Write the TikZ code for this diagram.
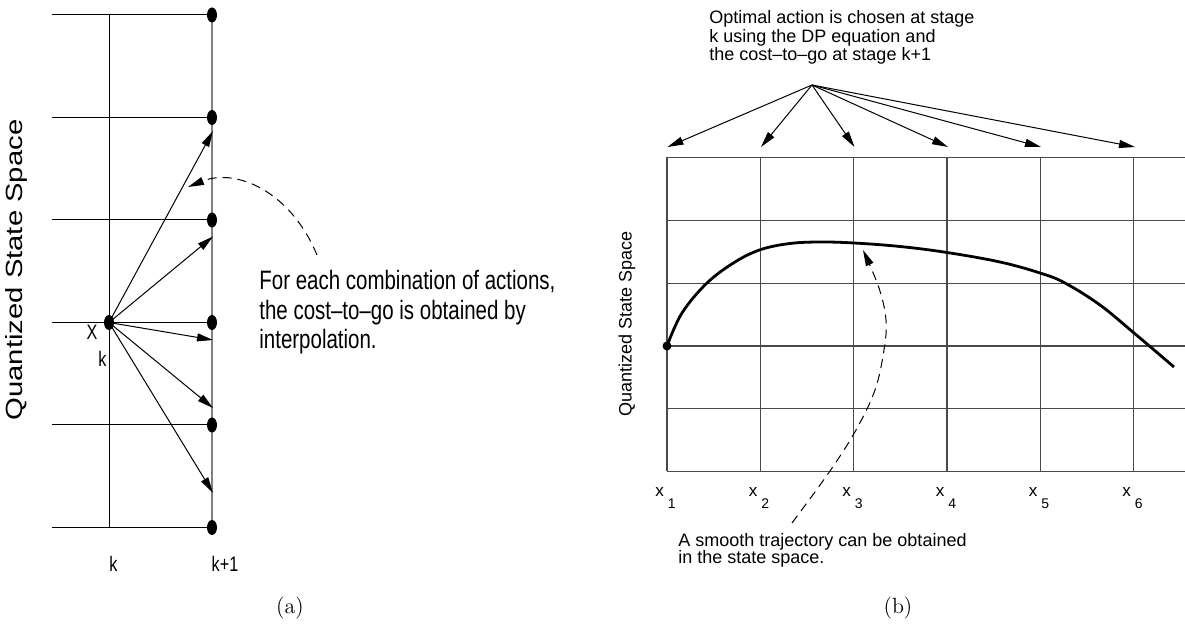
\documentclass[tikz,border=0pt]{standalone}
\usepackage{fontspec}
\usepackage{tikz}
\usetikzlibrary{arrows.meta,positioning,shapes.geometric}
\newfontfamily\helv{Liberation Sans}
\newfontfamily\helvnarrow[FakeStretch=0.77]{Liberation Sans}
\newfontfamily\helvwide[FakeStretch=1.25]{Liberation Sans}
\definecolor{gridgray}{HTML}{4A4A4A}
\newcommand{\xsub}[1]{x\hspace{2pt}\raisebox{-6pt}{\fontsize{7}{8}\selectfont #1}}

\begin{document}
\begin{tikzpicture}[
    x=0.5pt,y=-0.5pt,
    dot/.style={ellipse,fill=black,inner sep=0pt,minimum width=5pt,minimum height=7.5pt},
    arr/.style={-{Triangle[length=8pt,width=4pt]},line width=0.5pt},
    dasharr/.style={-{Triangle[length=8pt,width=4pt]},line width=0.5pt,dash pattern=on 4.5pt off 3pt},
    gridline/.style={line width=0.55pt,draw=gridgray},
    note/.style={font=\helv\fontsize{9}{9.2}\selectfont,align=left,inner sep=0pt},
    bignote/.style={font=\helvnarrow\fontsize{13.3}{14.8}\selectfont,align=left,inner sep=0pt},
    tick/.style={font=\helvnarrow\fontsize{10.5}{12}\selectfont,inner sep=0pt,anchor=base},
    xtick/.style={font=\helv\fontsize{8.5}{9}\selectfont,inner sep=0pt,anchor=base}
  ]
    \useasboundingbox (0,0) rectangle (1185,624);

    % (a) stage k to stage k+1
    \draw[gridline,draw=black,line width=0.5pt] (52,15) -- (212,15) (52,117.5) -- (212,117.5) (52,220) -- (212,220)
      (52,322.5) -- (212,322.5) (52,425) -- (212,425) (52,527.5) -- (212,527.5);
    \draw[gridline,draw=black,line width=0.5pt] (109,15) -- (109,527.5);
    \draw[gray,line width=1pt] (212,15) -- (212,527.5);
    \node[dot] (q1) at (212,15) {};
    \node[dot] (q2) at (212,117.5) {};
    \node[dot] (q3) at (212,220) {};
    \node[dot] (q4) at (212,322.5) {};
    \node[dot] (q5) at (212,425) {};
    \node[dot] (q6) at (212,527.5) {};
    \node[dot] (xk) at (109,322.5) {};
    \coordinate (t1) at (213,131);
    \coordinate (t2) at (213,236.5);
    \coordinate (t3) at (213,340);
    \coordinate (t4) at (213,408);
    \coordinate (t5) at (213,493);
    \draw[arr] (xk.center) -- (t1);
    \draw[arr] (xk.center) -- (t2);
    \draw[arr] (xk.center) -- (t3);
    \draw[arr] (xk.center) -- (t4);
    \draw[arr] (xk.center) -- (t5);
    \node[tick] (xklab) at (92,340) {X};
    \node[tick] (xksub) at (102.5,367) {k};
    \node[tick] (klab) at (113.5,572) {k};
    \node[tick] (k1lab) at (225,572) {k+1};
    \node[font=\helvwide\fontsize{11.7}{13}\selectfont,rotate=90,inner sep=0pt] (qssa) at (16.5,270) {Quantized State Space};
    \node[bignote,anchor=north west] (interp) at (259,270) {For each combination of actions,\\the cost–to–go is obtained by\\interpolation.};
    \coordinate (c1) at (317,255);
    \coordinate (c2) at (188,187);
    \draw[dasharr] (c1) .. controls (290,190) and (235,168) .. (c2);
    \node[font=\fontsize{11}{13}\selectfont,anchor=base] (capa) at (290,614) {(a)};

    % (b) grid with trajectory
    \draw[gridline] (667,157.3) -- (1185,157.3) (667,220.3) -- (1185,220.3) (667,283.3) -- (1185,283.3)
      (667,346) -- (1185,346) (667,408.7) -- (1185,408.7) (667,471.3) -- (1185,471.3);
    \draw[gridline] (667,157.3) -- (667,471.3) (760.3,157.3) -- (760.3,471.3) (853.7,157.3) -- (853.7,471.3)
      (947,157.3) -- (947,471.3) (1040.3,157.3) -- (1040.3,471.3) (1133.7,157.3) -- (1133.7,471.3);
    \node[note,anchor=north west] (optnote) at (709,10.5) {Optimal action is chosen at stage\\k using the DP equation and\\the cost–to–go at stage k+1};
    \coordinate (apex) at (812,85);
    \coordinate (s1) at (667.5,147);
    \coordinate (s2) at (761,147);
    \coordinate (s3) at (854.5,147);
    \coordinate (s4) at (948,147);
    \coordinate (s5) at (1041,147);
    \coordinate (s6) at (1135,147);
    \draw[arr] (apex) -- (s1);
    \draw[arr] (apex) -- (s2);
    \draw[arr] (apex) -- (s3);
    \draw[arr] (apex) -- (s4);
    \draw[arr] (apex) -- (s5);
    \draw[arr] (apex) -- (s6);
    \node[note,rotate=90] (qssb) at (627,324) {Quantized State Space};
    \node[circle,fill=black,inner sep=0pt,minimum size=4.5pt] (x0) at (667,346) {};
    \draw[line width=1.4pt] plot[smooth,tension=0.6] coordinates {(x0.center) (682,313) (707,283) (735,262) (761,249.5)
      (790,243.5) (820,242) (854,243) (900,246.5) (947,252.5) (1000,262) (1040,273) (1065,283) (1100,305) (1134,333) (1174,367)};
    \node[xtick] (lx1) at (665.5,497) {\xsub{1}};
    \node[xtick] (lx2) at (759,497) {\xsub{2}};
    \node[xtick] (lx3) at (852.5,497) {\xsub{3}};
    \node[xtick] (lx4) at (946,497) {\xsub{4}};
    \node[xtick] (lx5) at (1039,497) {\xsub{5}};
    \node[xtick] (lx6) at (1132.5,497) {\xsub{6}};
    \node[note,anchor=north west,font=\helv\fontsize{9}{8.9}\selectfont] (smooth) at (678,532.7) {A smooth trajectory can be obtained\\in the state space.};
    \draw[dasharr] plot[smooth,tension=0.6] coordinates {(792,523) (830,471) (856,430) (875,390) (884,350) (886,320) (879,288) (863,250)};
    \node[font=\fontsize{11}{13}\selectfont,anchor=base] (capb) at (898,614) {(b)};
  \end{tikzpicture}
\end{document}
